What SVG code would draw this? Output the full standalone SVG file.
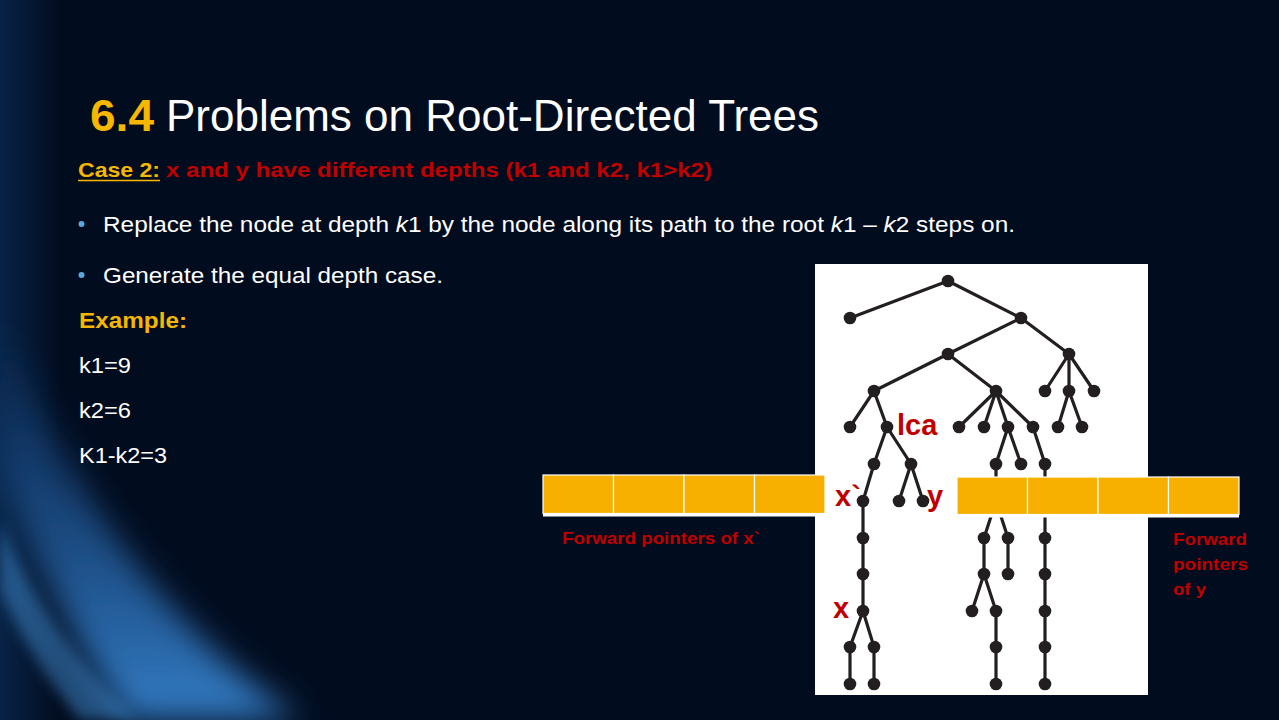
<svg xmlns="http://www.w3.org/2000/svg" width="1279" height="720" viewBox="0 0 1279 720">
<style>
.t{font-family:"Liberation Sans",Arial,sans-serif}
.w{fill:#ffffff}
.yl{fill:#f5b700}
.rd{fill:#c00000;font-weight:bold}
.e{stroke:#231f20;stroke-width:3.2;fill:none;stroke-linecap:round}
.n{fill:#231f20}
.cell{fill:#f7b000;stroke:#ffffff;stroke-width:1.2}
.lbl{font-family:"Liberation Sans",Arial,sans-serif;font-size:29px;font-weight:bold;fill:#c00000}
</style>
<defs>
<linearGradient id="band" x1="0" y1="0" x2="0" y2="1">
<stop offset="0" stop-color="#1a5aa8" stop-opacity="0"/>
<stop offset="0.5" stop-color="#2a72c0" stop-opacity="0.55"/>
<stop offset="1" stop-color="#3a8ad8" stop-opacity="0.9"/>
</linearGradient>
<radialGradient id="bot" cx="0.5" cy="1" r="0.7">
<stop offset="0" stop-color="#114a8a" stop-opacity="0.5"/>
<stop offset="1" stop-color="#021028" stop-opacity="0"/>
</radialGradient>
<linearGradient id="lft" x1="0" y1="0" x2="1" y2="0">
<stop offset="0" stop-color="#0f3f75" stop-opacity="0.45"/>
<stop offset="1" stop-color="#0f3f75" stop-opacity="0"/>
</linearGradient>
<filter id="blur" x="-50%" y="-50%" width="200%" height="200%"><feGaussianBlur stdDeviation="16"/></filter>
<filter id="blur2" x="-50%" y="-50%" width="200%" height="200%"><feGaussianBlur stdDeviation="7"/></filter>
</defs>

<g id="background">
<rect x="0" y="0" width="1279" height="720" fill="#020c1f"/>
<rect x="0" y="0" width="60" height="720" fill="url(#lft)"/>
<ellipse cx="520" cy="790" rx="720" ry="150" fill="url(#bot)"/>
<path d="M0,300 C50,450 130,600 300,720 L130,720 C60,630 20,520 0,460 Z" fill="url(#band)" filter="url(#blur)"/>
<path d="M0,520 C30,600 80,670 140,720 L80,720 C40,670 12,620 0,590 Z" fill="#4a9be6" opacity="0.45" filter="url(#blur2)"/>
</g>

<g id="title">
<text class="t yl" x="90" y="131" font-size="44" font-weight="bold" textLength="64" lengthAdjust="spacingAndGlyphs">6.4</text>
<text class="t w" x="166" y="131" font-size="44" textLength="653" lengthAdjust="spacingAndGlyphs">Problems on Root-Directed Trees</text>
</g>

<g id="case">
<text class="t yl" x="78" y="177" font-size="21" font-weight="bold" textLength="82" lengthAdjust="spacingAndGlyphs">Case 2:</text>
<line x1="78" y1="180.5" x2="160" y2="180.5" stroke="#f5b700" stroke-width="1.6"/>
<text class="t rd" x="166" y="177" font-size="21" textLength="546" lengthAdjust="spacingAndGlyphs">x and y have different depths (k1 and k2, k1&gt;k2)</text>
</g>

<g id="bullets">
<circle cx="81.5" cy="224" r="3" fill="#5aa7e0"/>
<text class="t w" x="103" y="232" font-size="22" textLength="912" lengthAdjust="spacingAndGlyphs">Replace the node at depth <tspan font-style="italic">k</tspan>1 by the node along its path to the root <tspan font-style="italic">k</tspan>1 – <tspan font-style="italic">k</tspan>2 steps on.</text>
<circle cx="81.5" cy="275" r="3" fill="#5aa7e0"/>
<text class="t w" x="103" y="283" font-size="22" textLength="340" lengthAdjust="spacingAndGlyphs">Generate the equal depth case.</text>
</g>

<g id="example">
<text class="t yl" x="79" y="328" font-size="22" font-weight="bold" textLength="108" lengthAdjust="spacingAndGlyphs">Example:</text>
<text class="t w" x="79" y="373" font-size="22" textLength="52" lengthAdjust="spacingAndGlyphs">k1=9</text>
<text class="t w" x="79" y="418" font-size="22" textLength="52" lengthAdjust="spacingAndGlyphs">k2=6</text>
<text class="t w" x="79" y="463" font-size="22" textLength="88" lengthAdjust="spacingAndGlyphs">K1-k2=3</text>
</g>

<g id="tree-panel">
<rect x="815" y="264" width="333" height="431" fill="#ffffff"/>
</g>

<g id="connectors">
<path class="e" d="M948,281 L850,318 M948,281 L1021,318 M1021,318 L948,354 M1021,318 L1069,354
M948,354 L874,391 M948,354 L996,391
M1069,354 L1045,391 M1069,354 L1069,391 M1069,354 L1094,391
M874,391 L850,427 M874,391 L887,427
M996,391 L959,427 M996,391 L984,427 M996,391 L1008,427 M996,391 L1033,427
M1069,391 L1058,427 M1069,391 L1082,427
M887,427 L874,464 M887,427 L911,464
M1008,427 L996,464 M1008,427 L1021,464 M1033,427 L1045,464
M874,464 L863,501 M911,464 L899,501 M911,464 L923,501
M863,501 L863,611 M863,611 L850,647 M863,611 L874,647 M850,647 L850,684 M874,647 L874,684
M996,464 L996,501 M996,501 L984,538 M996,501 L1008,538 M984,538 L984,574 M1008,538 L1008,574
M984,574 L972,611 M984,574 L996,611 M996,611 L996,684
M1045,464 L1045,684"/>
</g>

<g id="nodes" class="n">
<circle cx="948" cy="281" r="6.3"/>
<circle cx="850" cy="318" r="6.3"/>
<circle cx="1021" cy="318" r="6.3"/>
<circle cx="948" cy="354" r="6.3"/>
<circle cx="1069" cy="354" r="6.3"/>
<circle cx="874" cy="391" r="6.3"/>
<circle cx="996" cy="391" r="6.3"/>
<circle cx="1045" cy="391" r="6.3"/>
<circle cx="1069" cy="391" r="6.3"/>
<circle cx="1094" cy="391" r="6.3"/>
<circle cx="850" cy="427" r="6.3"/>
<circle cx="887" cy="427" r="6.3"/>
<circle cx="959" cy="427" r="6.3"/>
<circle cx="984" cy="427" r="6.3"/>
<circle cx="1008" cy="427" r="6.3"/>
<circle cx="1033" cy="427" r="6.3"/>
<circle cx="1058" cy="427" r="6.3"/>
<circle cx="1082" cy="427" r="6.3"/>
<circle cx="874" cy="464" r="6.3"/>
<circle cx="911" cy="464" r="6.3"/>
<circle cx="996" cy="464" r="6.3"/>
<circle cx="1021" cy="464" r="6.3"/>
<circle cx="1045" cy="464" r="6.3"/>
<circle cx="863" cy="501" r="6.3"/>
<circle cx="899" cy="501" r="6.3"/>
<circle cx="923" cy="501" r="6.3"/>
<circle cx="996" cy="501" r="6.3"/>
<circle cx="1045" cy="501" r="6.3"/>
<circle cx="863" cy="538" r="6.3"/>
<circle cx="863" cy="574" r="6.3"/>
<circle cx="863" cy="611" r="6.3"/>
<circle cx="850" cy="647" r="6.3"/>
<circle cx="874" cy="647" r="6.3"/>
<circle cx="850" cy="684" r="6.3"/>
<circle cx="874" cy="684" r="6.3"/>
<circle cx="984" cy="538" r="6.3"/>
<circle cx="1008" cy="538" r="6.3"/>
<circle cx="1045" cy="538" r="6.3"/>
<circle cx="984" cy="574" r="6.3"/>
<circle cx="1008" cy="574" r="6.3"/>
<circle cx="1045" cy="574" r="6.3"/>
<circle cx="972" cy="611" r="6.3"/>
<circle cx="996" cy="611" r="6.3"/>
<circle cx="1045" cy="611" r="6.3"/>
<circle cx="996" cy="647" r="6.3"/>
<circle cx="1045" cy="647" r="6.3"/>
<circle cx="996" cy="684" r="6.3"/>
<circle cx="1045" cy="684" r="6.3"/>
</g>

<g id="tree-labels">
<text class="lbl" x="897" y="435">lca</text>
<text class="lbl" x="835" y="506">x`</text>
<text class="lbl" x="927" y="506">y</text>
<text class="lbl" x="833" y="618">x</text>
</g>

<g id="pointers-x">
<line x1="543" y1="515" x2="825" y2="515" stroke="#ffffff" stroke-width="3"/>
<rect class="cell" x="543" y="475" width="70.5" height="38.5"/>
<rect class="cell" x="613.5" y="475" width="70.5" height="38.5"/>
<rect class="cell" x="684" y="475" width="70.5" height="38.5"/>
<rect class="cell" x="754.5" y="475" width="70.5" height="38.5"/>
<text class="t rd" x="562" y="544" font-size="17" textLength="198" lengthAdjust="spacingAndGlyphs">Forward pointers of x`</text>
</g>

<g id="pointers-y">
<line x1="957" y1="516" x2="1239" y2="516" stroke="#ffffff" stroke-width="3"/>
<rect class="cell" x="957" y="477" width="70.5" height="37.5"/>
<rect class="cell" x="1027.5" y="477" width="70.5" height="37.5"/>
<rect class="cell" x="1098" y="477" width="70.5" height="37.5"/>
<rect class="cell" x="1168.5" y="477" width="70.5" height="37.5"/>
<text class="t rd" x="1173" y="545" font-size="17" textLength="74" lengthAdjust="spacingAndGlyphs">Forward</text>
<text class="t rd" x="1173" y="570" font-size="17" textLength="75" lengthAdjust="spacingAndGlyphs">pointers</text>
<text class="t rd" x="1173" y="595" font-size="17" textLength="33" lengthAdjust="spacingAndGlyphs">of y</text>
</g>
</svg>
